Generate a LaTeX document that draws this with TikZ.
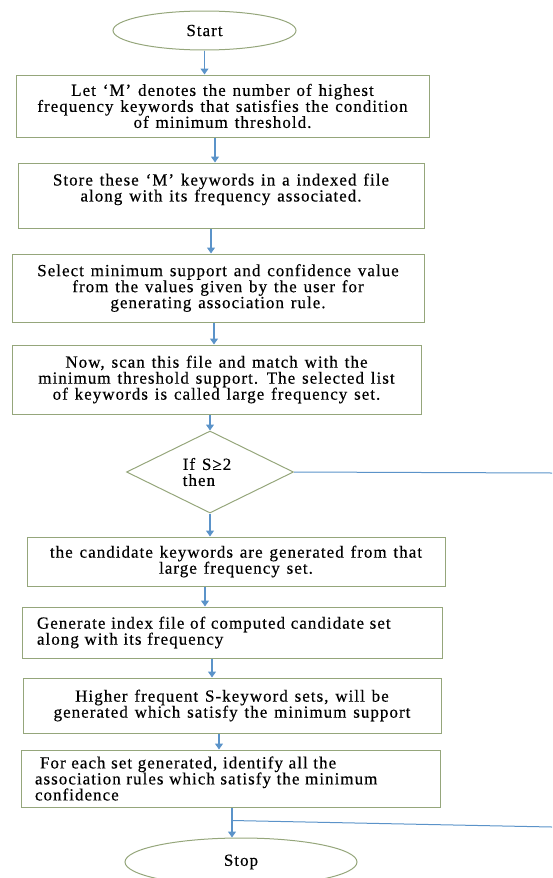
\documentclass[tikz,border=0pt]{standalone}
\usepackage{fontspec}
\setmainfont{Liberation Serif}[LetterSpace=6,WordSpace=1.3,FakeBold=0.4]
\usepackage{xcolor}
\usepackage{tikz}
\usetikzlibrary{shapes.geometric, arrows.meta, positioning}
\definecolor{edgegreen}{HTML}{95A67B}
\definecolor{flowblue}{HTML}{5B93C9}
\tikzstyle{arrow} = [line width=1.2pt, draw=flowblue, -{Triangle[width=8pt,length=6pt]}]
\tikzstyle{wire} = [line width=1pt, draw=flowblue]

\begin{document}
\begin{tikzpicture}[
        x=1pt, y=1pt,
        node distance=25pt,
        every node/.style={font=\fontsize{17}{16}\selectfont},
        block/.style={rectangle, draw=edgegreen, line width=1pt,
            align=center, inner ysep=2pt},
        lblock/.style={rectangle, draw=edgegreen, line width=1pt,
            align=left, inner xsep=0pt, inner ysep=2pt},
        term/.style={ellipse, draw=edgegreen, line width=1pt, inner sep=1pt},
        decide/.style={diamond, draw=edgegreen, line width=1pt, aspect=2,
            inner sep=0pt, align=left}
    ]
    \useasboundingbox (0,0) rectangle (552,-878);
    \node (start)  [term, minimum width=183pt, minimum height=39pt] at (204.5,-30.5) {Start};
    \node (mfreq)  [block, minimum width=413pt, minimum height=62pt,
        below=24pt of start, xshift=18pt]
        {Let ‘M’ denotes the number of highest\\
         frequency keywords that satisfies the condition\\
         of minimum threshold.};
    \node (store)  [block, minimum width=406pt, minimum height=65pt,
        below=25pt of mfreq, xshift=-1.5pt]
        {Store these ‘M’ keywords in a indexed file\\
         along with its frequency associated.\\ \mbox{}};
    \node (select) [block, minimum width=412pt, minimum height=68pt,
        below=25pt of store, xshift=-3pt]
        {Select minimum support and confidence value\\
         from the values given by the user for\\
         generating association rule.};
    \node (scan)   [block, minimum width=409pt, minimum height=69pt,
        below=22pt of select, xshift=-1.5pt]
        {Now, scan this file and match with the\\
         minimum threshold support. The selected list\\
         of keywords is called large frequency set.};
    \node (check)  [decide, minimum width=167pt, minimum height=82pt,
        below=16pt of scan, xshift=-6.5pt]
        {\hspace{-6pt}If S≥2\\ \hspace{-6pt}then};
    \node (cand)   [block, minimum width=418pt, minimum height=49pt,
        below=23pt of check, xshift=26pt]
        {the candidate keywords are generated from that\\
         large frequency set.};
    \node (index)  [lblock, minimum width=420pt, minimum height=51pt,
        text width=390pt, below=20pt of cand, xshift=-4pt]
        {Generate index file of computed candidate set\\
         along with its frequency};
    \node (higher) [block, minimum width=418pt, minimum height=55pt,
        below=19pt of index]
        {Higher frequent S-keyword sets, will be\\
         generated which satisfy the minimum support};
    \node (rules)  [lblock, minimum width=419pt, minimum height=57pt,
        text width=391pt, below=16pt of higher, xshift=-1.5pt]
        {\hspace{5pt}For each set generated, identify all the\\
         association rules which satisfy the minimum\\
         confidence};
    \node (stop)   [term, minimum width=232pt, minimum height=48pt,
        below=30pt of rules, xshift=10.5pt] {Stop};

    \coordinate (yesend) at (552,-473);
    \coordinate (noend)  at (552,-827);
    \path ([xshift=1.5pt]rules.south) ++(0,-13) coordinate (join);

    \draw [arrow] (start.south) -- (start.south |- mfreq.north);
    \draw [arrow] ([xshift=-7.5pt]mfreq.south) -- ([xshift=-7.5pt]mfreq.south |- store.north);
    \draw [arrow] ([xshift=-10pt]store.south) -- ([xshift=-10pt]store.south |- select.north);
    \draw [arrow] ([xshift=-4pt]select.south) -- ([xshift=-4pt]select.south |- scan.north);
    \draw [arrow] (scan.south -| check.north) -- (check.north);
    \draw [arrow] (check.south) -- (check.south |- cand.north);
    \draw [arrow] ([xshift=-31pt]cand.south) -- ([xshift=-31pt]cand.south |- index.north);
    \draw [arrow] ([xshift=-20pt]index.south) -- ([xshift=-20pt]index.south |- higher.north);
    \draw [arrow] ([xshift=-13pt]higher.south) -- ([xshift=-13pt]higher.south |- rules.north);
    \draw [arrow] ([xshift=1.5pt]rules.south) -- ([xshift=1.5pt]rules.south |- stop.north);
    \draw [wire]  (check.east) -- (yesend);
    \draw [wire]  (join) -- (noend);
    \end{tikzpicture}
\end{document}
